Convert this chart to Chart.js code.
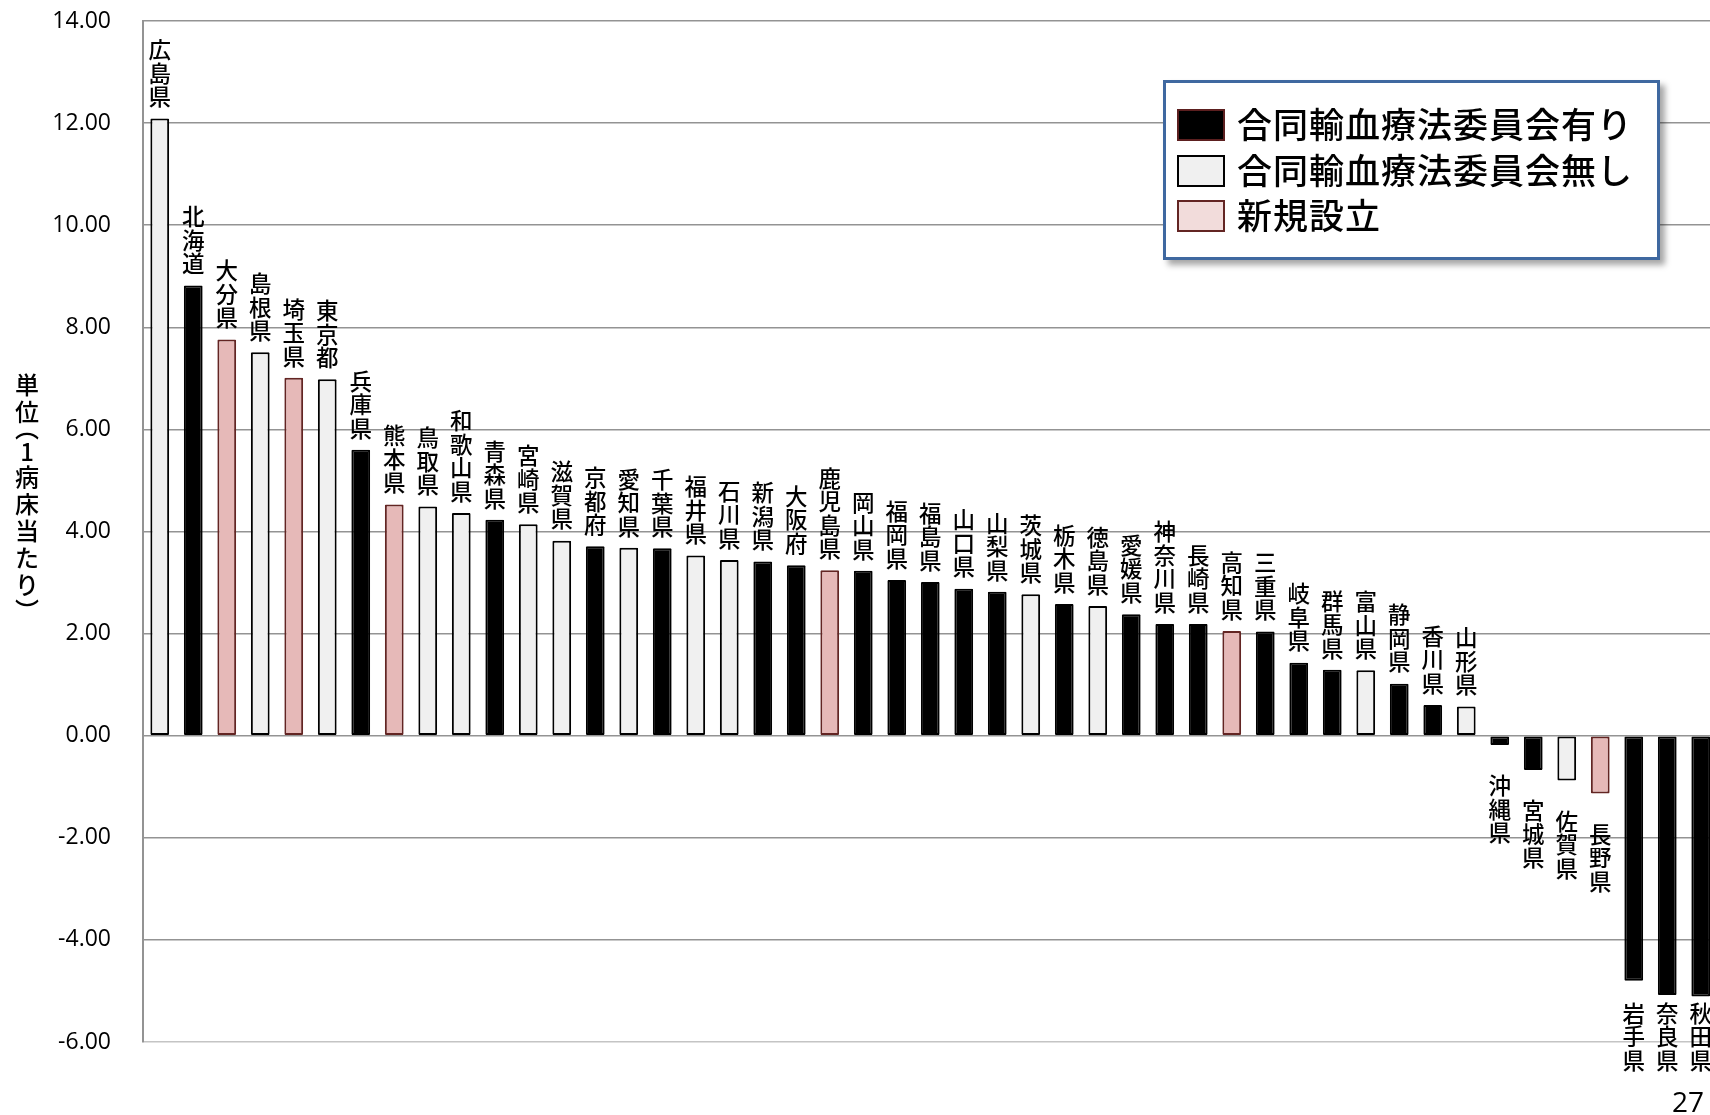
<!DOCTYPE html>
<html lang="ja">
<head>
<meta charset="utf-8">
<script src="https://cdn.jsdelivr.net/npm/chart.js@4.4.1/dist/chart.umd.min.js"></script>
<style>
    html, body { margin: 0; padding: 0; background: #fff; overflow: hidden; width: 1710px; height: 1115px; }
    #wrap { position: relative; width: 1710px; height: 1115px; overflow: hidden; }
    #chart { position: absolute; left: 0; top: 0; }
    #legend {
        position: absolute; left: 1163px; top: 80px; width: 491px; height: 174px;
        border: 3px solid #3f68a0; background: #fff;
        box-shadow: 5px 5px 6px rgba(0, 0, 0, 0.35);
        font-family: "Noto Sans CJK JP", sans-serif;
    }
    .legend-row { position: absolute; left: 0; height: 36px; }
    .legend-box { position: absolute; left: 11px; top: 2px; width: 44px; height: 28px; border: 2px solid; }
    .legend-text { position: absolute; left: 71px; font-size: 35px; font-weight: 500; letter-spacing: 1px; white-space: nowrap; color: #000; line-height: 36px; top: -2px; }
    #page { position: absolute; left: 1672px; top: 1082px; font: 28px "Open Sans", sans-serif; color: #000; }
</style>
</head>
<body>
<div id="wrap">
    <canvas id="chart" width="1720" height="1115"></canvas>
    <div id="legend"></div>
    <div id="page">27</div>
</div>
<script>
const prefectures = [
    '広島県', '北海道', '大分県', '島根県', '埼玉県', '東京都', '兵庫県', '熊本県', '鳥取県', '和歌山県',
    '青森県', '宮崎県', '滋賀県', '京都府', '愛知県', '千葉県', '福井県', '石川県', '新潟県', '大阪府',
    '鹿児島県', '岡山県', '福岡県', '福島県', '山口県', '山梨県', '茨城県', '栃木県', '徳島県', '愛媛県',
    '神奈川県', '長崎県', '高知県', '三重県', '岐阜県', '群馬県', '富山県', '静岡県', '香川県', '山形県',
    '沖縄県', '宮城県', '佐賀県', '長野県', '岩手県', '奈良県', '秋田県'
];

const values = [
    12.09, 8.82, 7.76, 7.51, 7.01, 6.98, 5.60, 4.53, 4.49, 4.36,
    4.23, 4.14, 3.82, 3.71, 3.68, 3.67, 3.53, 3.44, 3.41, 3.34,
    3.24, 3.23, 3.05, 3.01, 2.88, 2.82, 2.77, 2.58, 2.54, 2.38,
    2.19, 2.19, 2.05, 2.04, 1.43, 1.29, 1.28, 1.02, 0.60, 0.57,
    -0.18, -0.67, -0.88, -1.13, -4.80, -5.08, -5.11
];

// 0 = 有り, 1 = 無し, 2 = 新規設立
const groups = [
    1, 0, 2, 1, 2, 1, 0, 2, 1, 1,
    0, 1, 1, 0, 1, 0, 1, 1, 0, 0,
    2, 0, 0, 0, 0, 0, 1, 0, 1, 0,
    0, 0, 2, 0, 0, 0, 1, 0, 0, 1,
    0, 0, 1, 2, 0, 0, 0
];

const groupNames = ['合同輸血療法委員会有り', '合同輸血療法委員会無し', '新規設立'];
const yTicks = [-6, -4, -2, 0, 2, 4, 6, 8, 10, 12, 14];
const yTitle = '単位︵1病床当たり︶';

const fillColors = ['#000000', '#f0f0f0', '#e6b9b8'];
const borderColors = ['#000000', '#000000', '#632523'];
const legendFills = ['#000000', '#f0f0f0', '#f2dcdb'];
const legendBorders = ['#5c1f1f', '#000000', '#632523'];

// ---- Legend ----
const legend = document.getElementById('legend');
groupNames.forEach((name, i) => {
    const row = document.createElement('div');
    row.className = 'legend-row';
    row.style.top = (24 + i * 45.5) + 'px';
    const box = document.createElement('div');
    box.className = 'legend-box';
    box.style.background = legendFills[i];
    box.style.borderColor = legendBorders[i];
    const text = document.createElement('div');
    text.className = 'legend-text';
    text.textContent = name;
    row.append(box, text);
    legend.appendChild(row);
});

// vertical prefecture labels above / below bars
const barLabels = {
    id: 'barLabels',
    afterDatasetsDraw(chart) {
        const c = chart.ctx;
        const meta = chart.getDatasetMeta(0);
        const pitch = 23.5;
        c.save();
        c.font = '500 22.5px "Noto Sans CJK JP"';
        c.fillStyle = '#000';
        c.textAlign = 'center';
        c.textBaseline = 'middle';
        meta.data.forEach((bar, i) => {
            const chars = [...prefectures[i]];
            const n = chars.length;
            // labels under negative bars are kept inside the chart's lower edge
            const top = Math.min(bar.y + 29, 1072 - n * pitch);
            chars.forEach((ch, j) => {
                const y = values[i] >= 0
                    ? bar.y - 10 - (n - j - 0.5) * pitch
                    : top + (j + 0.5) * pitch;
                c.fillText(ch, bar.x, y);
            });
        });
        c.restore();
    }
};

// y axis title, written top to bottom
const axisTitle = {
    id: 'axisTitle',
    afterDraw(chart) {
        const c = chart.ctx;
        c.save();
        c.font = '500 24px "Noto Sans CJK JP"';
        c.fillStyle = '#000';
        c.textAlign = 'center';
        c.textBaseline = 'middle';
        let y = 371;
        [...yTitle].forEach(ch => {
            const step = (ch === '︵' || ch === '︶') ? 16 : (ch === '1' ? 22 : 27);
            const off = ch === '︵' ? -5 : (ch === '︶' ? 5 : 0);
            c.fillText(ch, 27, y + step / 2 + off);
            y += step;
        });
        c.restore();
    }
};

new Chart(document.getElementById('chart'), {
    type: 'bar',
    data: {
        labels: prefectures,
        datasets: [{
            data: values,
            backgroundColor: groups.map(g => fillColors[g]),
            borderColor: groups.map(g => borderColors[g]),
            borderWidth: 2,
            borderSkipped: false,
            borderRadius: 1,
            barPercentage: 0.56,
            categoryPercentage: 1
        }]
    },
    options: {
        responsive: false,
        animation: false,
        layout: { padding: { top: 21, bottom: 73, left: 0, right: 2.5 } },
        plugins: {
            legend: { display: false },
            tooltip: { enabled: false }
        },
        scales: {
            x: { display: false },
            y: {
                min: -6,
                max: 14,
                afterFit: scale => {
                    scale.width = 143;
                    scale.paddingTop = 0;
                    scale.paddingBottom = 0;
                },
                afterBuildTicks: scale => { scale.ticks = yTicks.map(v => ({ value: v })); },
                ticks: {
                    padding: 32,
                    color: '#000',
                    font: { family: '"Open Sans"', size: 23 },
                    callback: v => v.toFixed(2)
                },
                grid: {
                    drawTicks: false,
                    color: ctx => ctx.tick && ctx.tick.value === -6 ? '#c4c4c4' : '#939393',
                    lineWidth: 1.6
                },
                border: { display: true, color: '#939393', width: 2 }
            }
        }
    },
    plugins: [barLabels, axisTitle]
});
</script>
</body>
</html>
